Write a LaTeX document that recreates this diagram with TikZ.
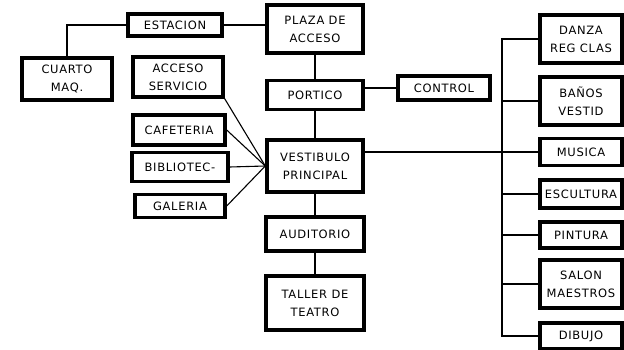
\documentclass[tikz,border=0pt]{standalone}
\usepackage{fontspec}
\newfontfamily\planofont[LetterSpace=6]{DejaVu Sans}
\usepackage{tikz}
\usetikzlibrary{positioning,calc}

\begin{document}
\begin{tikzpicture}[x=1pt,y=-1pt,
  espacio/.style={draw,line width=3.4pt,fill=white,align=center,inner sep=1pt,
    font=\planofont\fontsize{11.5}{18}\selectfont},
  enlace/.style={draw,line width=1.1pt}
]
  \useasboundingbox (0,0) rectangle (624,350);
  % columna central
  \node[espacio,minimum width=96pt,minimum height=48pt] (plaza) at (315,29) {PLAZA DE\\ACCESO};
  \node[espacio,minimum width=96pt,minimum height=29pt] (portico) at (315,95) {PORTICO};
  \node[espacio,minimum width=96pt,minimum height=52pt] (vestibulo) at (315,166) {VESTIBULO\\PRINCIPAL};
  \node[espacio,minimum width=98pt,minimum height=34pt] (auditorio) at (315,234) {AUDITORIO};
  \node[espacio,minimum width=98pt,minimum height=54pt] (taller) at (315,303) {TALLER DE\\TEATRO};
  \node[espacio,minimum width=92pt,minimum height=24pt] (control) at (444,88) {CONTROL};
  % lado izquierdo
  \node[espacio,minimum width=94pt,minimum height=22pt] (estacion) at (175,25) {ESTACION};
  \node[espacio,minimum width=90pt,minimum height=42pt] (cuarto) at (67,79) {CUARTO\\MAQ.};
  \node[espacio,minimum width=90pt,minimum height=40pt] (acceso) at (178,77) {ACCESO\\SERVICIO};
  \node[espacio,minimum width=92pt,minimum height=30pt] (cafeteria) at (179,130) {CAFETERIA};
  \node[espacio,minimum width=96pt,minimum height=29pt] (biblioteca) at (180,167) {BIBLIOTEC-};
  \node[espacio,minimum width=90pt,minimum height=23pt] (galeria) at (180,206) {GALERIA};
  % lado derecho
  \node[espacio,minimum width=82pt,minimum height=48pt] (danza) at (581,39) {DANZA\\REG CLAS};
  \node[espacio,minimum width=82pt,minimum height=48pt] (banos) at (581,101) {BAÑOS\\VESTID};
  \node[espacio,minimum width=82pt,minimum height=27pt] (musica) at (581,152) {MUSICA};
  \node[espacio,minimum width=82pt,minimum height=28pt] (escultura) at (581,194) {ESCULTURA};
  \node[espacio,minimum width=82pt,minimum height=26pt] (pintura) at (581,235) {PINTURA};
  \node[espacio,minimum width=82pt,minimum height=48pt] (salon) at (581,284) {SALON\\MAESTROS};
  \node[espacio,minimum width=82pt,minimum height=26pt] (dibujo) at (581,336) {DIBUJO};
  \coordinate (eje) at (502,0);

  % conexiones
  \draw[enlace] (cuarto.north) |- (estacion.west);
  \draw[enlace] (estacion.east) -- (estacion.east -| plaza.west);
  \draw[enlace] (plaza.south) -- (portico.north);
  \draw[enlace] (portico.south) -- (vestibulo.north);
  \draw[enlace] (vestibulo.south) -- (auditorio.north);
  \draw[enlace] (auditorio.south) -- (taller.north);
  \draw[enlace] (control.west) -- (control.west -| portico.east);
  \draw[enlace] (acceso.south east) -- (vestibulo.west);
  \draw[enlace] (cafeteria.east) -- (vestibulo.west);
  \draw[enlace] (biblioteca.east) -- (vestibulo.west);
  \draw[enlace] (galeria.east) -- (vestibulo.west);
  \draw[enlace] (musica.west -| vestibulo.east) -- (musica.west);
  \draw[enlace] (danza.west) -| (eje |- dibujo.west) -- (dibujo.west);
  \foreach \sala in {banos,escultura,pintura,salon}
    \draw[enlace] (\sala.west) -- (\sala.west -| eje);
\end{tikzpicture}
\end{document}
